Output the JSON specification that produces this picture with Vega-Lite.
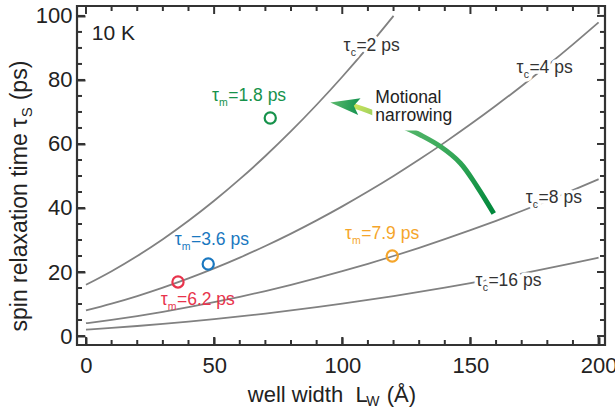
{
  "$schema": "https://vega.github.io/schema/vega-lite/v6.json",
  "width": 528,
  "height": 339,
  "autosize": "none",
  "padding": {"left": 77, "top": 6, "right": 10, "bottom": 64},
  "background": "white",
  "config": {
    "view": {"stroke": "#333333", "strokeWidth": 2.2},
    "font": "Liberation Sans",
    "text": {"font": "Liberation Sans"}
  },
  "datasets": {
    "curves": [
      {"tc": 2, "L": 0, "tau": 16}, {"tc": 2, "L": 10, "tau": 20.25}, {"tc": 2, "L": 20, "tau": 25}, {"tc": 2, "L": 30, "tau": 30.25}, {"tc": 2, "L": 40, "tau": 36}, {"tc": 2, "L": 50, "tau": 42.25}, {"tc": 2, "L": 60, "tau": 49}, {"tc": 2, "L": 70, "tau": 56.25}, {"tc": 2, "L": 80, "tau": 64}, {"tc": 2, "L": 90, "tau": 72.25}, {"tc": 2, "L": 100, "tau": 81}, {"tc": 2, "L": 110, "tau": 90.25}, {"tc": 2, "L": 120, "tau": 100},
      {"tc": 4, "L": 0, "tau": 8}, {"tc": 4, "L": 10, "tau": 10.13}, {"tc": 4, "L": 20, "tau": 12.5}, {"tc": 4, "L": 30, "tau": 15.13}, {"tc": 4, "L": 40, "tau": 18}, {"tc": 4, "L": 50, "tau": 21.13}, {"tc": 4, "L": 60, "tau": 24.5}, {"tc": 4, "L": 70, "tau": 28.13}, {"tc": 4, "L": 80, "tau": 32}, {"tc": 4, "L": 90, "tau": 36.13}, {"tc": 4, "L": 100, "tau": 40.5}, {"tc": 4, "L": 110, "tau": 45.13}, {"tc": 4, "L": 120, "tau": 50}, {"tc": 4, "L": 130, "tau": 55.13}, {"tc": 4, "L": 140, "tau": 60.5}, {"tc": 4, "L": 150, "tau": 66.13}, {"tc": 4, "L": 160, "tau": 72}, {"tc": 4, "L": 170, "tau": 78.13}, {"tc": 4, "L": 180, "tau": 84.5}, {"tc": 4, "L": 190, "tau": 91.13}, {"tc": 4, "L": 200, "tau": 98},
      {"tc": 8, "L": 0, "tau": 4}, {"tc": 8, "L": 10, "tau": 5.06}, {"tc": 8, "L": 20, "tau": 6.25}, {"tc": 8, "L": 30, "tau": 7.56}, {"tc": 8, "L": 40, "tau": 9}, {"tc": 8, "L": 50, "tau": 10.56}, {"tc": 8, "L": 60, "tau": 12.25}, {"tc": 8, "L": 70, "tau": 14.06}, {"tc": 8, "L": 80, "tau": 16}, {"tc": 8, "L": 90, "tau": 18.06}, {"tc": 8, "L": 100, "tau": 20.25}, {"tc": 8, "L": 110, "tau": 22.56}, {"tc": 8, "L": 120, "tau": 25}, {"tc": 8, "L": 130, "tau": 27.56}, {"tc": 8, "L": 140, "tau": 30.25}, {"tc": 8, "L": 150, "tau": 33.06}, {"tc": 8, "L": 160, "tau": 36}, {"tc": 8, "L": 170, "tau": 39.06}, {"tc": 8, "L": 180, "tau": 42.25}, {"tc": 8, "L": 190, "tau": 45.56}, {"tc": 8, "L": 200, "tau": 49},
      {"tc": 16, "L": 0, "tau": 2}, {"tc": 16, "L": 10, "tau": 2.53}, {"tc": 16, "L": 20, "tau": 3.13}, {"tc": 16, "L": 30, "tau": 3.78}, {"tc": 16, "L": 40, "tau": 4.5}, {"tc": 16, "L": 50, "tau": 5.28}, {"tc": 16, "L": 60, "tau": 6.13}, {"tc": 16, "L": 70, "tau": 7.03}, {"tc": 16, "L": 80, "tau": 8}, {"tc": 16, "L": 90, "tau": 9.03}, {"tc": 16, "L": 100, "tau": 10.13}, {"tc": 16, "L": 110, "tau": 11.28}, {"tc": 16, "L": 120, "tau": 12.5}, {"tc": 16, "L": 130, "tau": 13.78}, {"tc": 16, "L": 140, "tau": 15.13}, {"tc": 16, "L": 150, "tau": 16.53}, {"tc": 16, "L": 160, "tau": 18}, {"tc": 16, "L": 170, "tau": 19.53}, {"tc": 16, "L": 180, "tau": 21.13}, {"tc": 16, "L": 190, "tau": 22.78}, {"tc": 16, "L": 200, "tau": 24.5}
    ],
    "circles": [
      {"L": 71.9, "tau": 68.1, "grp": "g"},
      {"L": 47.7, "tau": 22.5, "grp": "b"},
      {"L": 35.9, "tau": 16.9, "grp": "r"},
      {"L": 119.5, "tau": 25.0, "grp": "o"}
    ],
    "tm": [
      {"L": 55.5, "tau": 73.4, "grp": "g", "rest": "=1.8 ps"},
      {"L": 41.0, "tau": 28.4, "grp": "b", "rest": "=3.6 ps"},
      {"L": 35.5, "tau": 9.7, "grp": "r", "rest": "=6.2 ps"},
      {"L": 107.4, "tau": 30.3, "grp": "o", "rest": "=7.9 ps"}
    ],
    "tc": [
      {"L": 105.5, "tau": 89.1, "rest": "=2 ps"},
      {"L": 173.0, "tau": 82.2, "rest": "=4 ps"},
      {"L": 176.6, "tau": 41.6, "rest": "=8 ps"},
      {"L": 157.0, "tau": 15.6, "rest": "=16 ps"}
    ],
    "arrow": [
      {"o": 1, "L": 159.1, "tau": 38.3},
      {"o": 2, "L": 152.6, "tau": 46.7},
      {"o": 3, "L": 146.1, "tau": 54.0},
      {"o": 4, "L": 138.3, "tau": 59.2},
      {"o": 5, "L": 130.5, "tau": 62.8},
      {"o": 6, "L": 125.9, "tau": 64.6},
      {"o": 7, "L": 110.9, "tau": 70.1},
      {"o": 8, "L": 104.4, "tau": 71.9}
    ],
    "xmaj": [{"v": 0, "lo": -0.3, "hi": 100.6}, {"v": 50, "lo": -0.3, "hi": 100.6}, {"v": 100, "lo": -0.3, "hi": 100.6}, {"v": 150, "lo": -0.3, "hi": 100.6}, {"v": 200, "lo": -0.3, "hi": 100.6}],
    "xmin": [{"v": 10, "lo": -1.24, "hi": 101.54}, {"v": 20, "lo": -1.24, "hi": 101.54}, {"v": 30, "lo": -1.24, "hi": 101.54}, {"v": 40, "lo": -1.24, "hi": 101.54}, {"v": 60, "lo": -1.24, "hi": 101.54}, {"v": 70, "lo": -1.24, "hi": 101.54}, {"v": 80, "lo": -1.24, "hi": 101.54}, {"v": 90, "lo": -1.24, "hi": 101.54}, {"v": 110, "lo": -1.24, "hi": 101.54}, {"v": 120, "lo": -1.24, "hi": 101.54}, {"v": 130, "lo": -1.24, "hi": 101.54}, {"v": 140, "lo": -1.24, "hi": 101.54}, {"v": 160, "lo": -1.24, "hi": 101.54}, {"v": 170, "lo": -1.24, "hi": 101.54}, {"v": 180, "lo": -1.24, "hi": 101.54}, {"v": 190, "lo": -1.24, "hi": 101.54}],
    "ymaj": [{"v": 0, "lo": -0.375, "hi": 199.375}, {"v": 20, "lo": -0.375, "hi": 199.375}, {"v": 40, "lo": -0.375, "hi": 199.375}, {"v": 60, "lo": -0.375, "hi": 199.375}, {"v": 80, "lo": -0.375, "hi": 199.375}, {"v": 100, "lo": -0.375, "hi": 199.375}],
    "ymin": [{"v": 5, "lo": -1.55, "hi": 200.55}, {"v": 10, "lo": -1.55, "hi": 200.55}, {"v": 15, "lo": -1.55, "hi": 200.55}, {"v": 25, "lo": -1.55, "hi": 200.55}, {"v": 30, "lo": -1.55, "hi": 200.55}, {"v": 35, "lo": -1.55, "hi": 200.55}, {"v": 45, "lo": -1.55, "hi": 200.55}, {"v": 50, "lo": -1.55, "hi": 200.55}, {"v": 55, "lo": -1.55, "hi": 200.55}, {"v": 65, "lo": -1.55, "hi": 200.55}, {"v": 70, "lo": -1.55, "hi": 200.55}, {"v": 75, "lo": -1.55, "hi": 200.55}, {"v": 85, "lo": -1.55, "hi": 200.55}, {"v": 90, "lo": -1.55, "hi": 200.55}, {"v": 95, "lo": -1.55, "hi": 200.55}]
  },
  "encoding": {
    "x": {"field": "L", "type": "quantitative", "scale": {"domain": [-3.5, 202.5], "nice": false, "zero": false}, "axis": null},
    "y": {"field": "tau", "type": "quantitative", "scale": {"domain": [-2.8, 103.1], "nice": false, "zero": false}, "axis": null}
  },
  "layer": [
    {
      "data": {"name": "curves"},
      "mark": {"type": "line", "interpolate": "monotone", "strokeWidth": 1.8, "color": "#818181"},
      "encoding": {
        "x": {"field": "L", "type": "quantitative", "scale": {"domain": [-3.5, 202.5], "nice": false, "zero": false},
          "axis": {"orient": "bottom", "values": [0, 50, 100, 150, 200], "offset": -8, "domain": false, "grid": false, "title": null, "ticks": true, "tickColor": "#333333", "tickWidth": 2, "tickSize": 8, "labelFont": "Liberation Sans", "labelFontSize": 22, "labelColor": "#222222", "labelPadding": 10, "labelOverlap": false, "labelFlush": false}},
        "y": {"field": "tau", "type": "quantitative", "scale": {"domain": [-2.8, 103.1], "nice": false, "zero": false},
          "axis": {"orient": "left", "values": [0, 20, 40, 60, 80, 100], "offset": -8, "domain": false, "grid": false, "title": null, "ticks": true, "tickColor": "#333333", "tickWidth": 2, "tickSize": 8, "labelFont": "Liberation Sans", "labelFontSize": 22, "labelColor": "#222222", "labelPadding": 5, "labelOverlap": false, "labelFlush": false}},
        "detail": {"field": "tc", "type": "nominal"}
      }
    },
    {
      "data": {"name": "xmaj"},
      "mark": {"type": "point", "shape": "M 0 0 L 0 1", "size": 256, "filled": false, "strokeWidth": 2, "color": "#333333", "opacity": 1},
      "encoding": {"x": {"field": "v", "type": "quantitative", "axis": null}, "y": {"field": "lo", "type": "quantitative", "axis": null}}
    },
    {
      "data": {"name": "xmaj"},
      "mark": {"type": "point", "shape": "M 0 0 L 0 -1", "size": 256, "filled": false, "strokeWidth": 2, "color": "#333333", "opacity": 1},
      "encoding": {"x": {"field": "v", "type": "quantitative", "axis": null}, "y": {"field": "hi", "type": "quantitative", "axis": null}}
    },
    {
      "data": {"name": "xmin"},
      "mark": {"type": "point", "shape": "M 0 0 L 0 1", "size": 100, "filled": false, "strokeWidth": 2, "color": "#333333", "opacity": 1},
      "encoding": {"x": {"field": "v", "type": "quantitative", "axis": null}, "y": {"field": "lo", "type": "quantitative", "axis": null}}
    },
    {
      "data": {"name": "xmin"},
      "mark": {"type": "point", "shape": "M 0 0 L 0 -1", "size": 100, "filled": false, "strokeWidth": 2, "color": "#333333", "opacity": 1},
      "encoding": {"x": {"field": "v", "type": "quantitative", "axis": null}, "y": {"field": "hi", "type": "quantitative", "axis": null}}
    },
    {
      "data": {"name": "ymaj"},
      "mark": {"type": "point", "shape": "M 0 0 L -1 0", "size": 256, "filled": false, "strokeWidth": 2, "color": "#333333", "opacity": 1},
      "encoding": {"y": {"field": "v", "type": "quantitative", "axis": null}, "x": {"field": "lo", "type": "quantitative", "axis": null}}
    },
    {
      "data": {"name": "ymaj"},
      "mark": {"type": "point", "shape": "M 0 0 L 1 0", "size": 256, "filled": false, "strokeWidth": 2, "color": "#333333", "opacity": 1},
      "encoding": {"y": {"field": "v", "type": "quantitative", "axis": null}, "x": {"field": "hi", "type": "quantitative", "axis": null}}
    },
    {
      "data": {"name": "ymin"},
      "mark": {"type": "point", "shape": "M 0 0 L -1 0", "size": 100, "filled": false, "strokeWidth": 2, "color": "#333333", "opacity": 1},
      "encoding": {"y": {"field": "v", "type": "quantitative", "axis": null}, "x": {"field": "lo", "type": "quantitative", "axis": null}}
    },
    {
      "data": {"name": "ymin"},
      "mark": {"type": "point", "shape": "M 0 0 L 1 0", "size": 100, "filled": false, "strokeWidth": 2, "color": "#333333", "opacity": 1},
      "encoding": {"y": {"field": "v", "type": "quantitative", "axis": null}, "x": {"field": "hi", "type": "quantitative", "axis": null}}
    },
    {
      "data": {"name": "circles"},
      "mark": {"type": "point", "filled": false, "size": 125, "strokeWidth": 2.2, "opacity": 1},
      "encoding": {
        "color": {"field": "grp", "type": "nominal", "scale": {"domain": ["g", "b", "r", "o"], "range": ["#16924b", "#1a78c0", "#e8344c", "#f5a52a"]}, "legend": null}
      }
    },
    {
      "data": {"name": "arrow"},
      "mark": {"type": "line", "interpolate": "catmull-rom", "strokeWidth": 5, "strokeCap": "butt",
        "stroke": {"gradient": "linear", "x1": 1, "y1": 1, "x2": 0, "y2": 0, "stops": [{"offset": 0, "color": "#00873b"}, {"offset": 0.35, "color": "#2ea454"}, {"offset": 0.7, "color": "#52b468"}, {"offset": 0.85, "color": "#8ccb62"}, {"offset": 1, "color": "#cde35a"}]}},
      "encoding": {"order": {"field": "o", "type": "quantitative"}}
    },
    {
      "data": {"values": [{"L": 111.7, "L2": 143, "tau": 78.4, "tau2": 64.2}]},
      "mark": {"type": "rect", "color": "white"},
      "encoding": {"x2": {"field": "L2"}, "y2": {"field": "tau2"}}
    },
    {
      "data": {"values": [{"L": 112.9, "tau": 72.9}]},
      "mark": {"type": "text", "align": "left", "baseline": "alphabetic", "fontSize": 17.5, "lineBreak": "\n", "lineHeight": 18.5, "color": "#222222"},
      "encoding": {"text": {"value": "Motional\nnarrowing"}}
    },
    {
      "data": {"values": [{"L": 101.0, "tau": 72.3}]},
      "mark": {"type": "point", "shape": "M -1 0 L 1 -0.58 L 0.62 0 L 1 0.58 Z", "size": 860, "angle": 8, "filled": true, "opacity": 1, "strokeWidth": 0,
        "fill": {"gradient": "linear", "x1": 0, "y1": 0, "x2": 1, "y2": 0, "stops": [{"offset": 0, "color": "#5cba6c"}, {"offset": 1, "color": "#169350"}]}}
    },
    {
      "data": {"name": "tm"},
      "mark": {"type": "text", "align": "left", "baseline": "alphabetic", "fontSize": 17.5},
      "encoding": {"text": {"field": "rest"}, "color": {"field": "grp", "type": "nominal", "scale": {"domain": ["g", "b", "r", "o"], "range": ["#16924b", "#1a78c0", "#e8344c", "#f5a52a"]}, "legend": null}}
    },
    {
      "data": {"name": "tm"},
      "mark": {"type": "text", "align": "right", "baseline": "alphabetic", "fontSize": 10.5, "dx": -0.5, "dy": 5},
      "encoding": {"text": {"value": "m"}, "color": {"field": "grp", "type": "nominal", "scale": {"domain": ["g", "b", "r", "o"], "range": ["#16924b", "#1a78c0", "#e8344c", "#f5a52a"]}, "legend": null}}
    },
    {
      "data": {"name": "tm"},
      "mark": {"type": "text", "align": "right", "baseline": "alphabetic", "fontSize": 17.5, "dx": -9.3},
      "encoding": {"text": {"value": "τ"}, "color": {"field": "grp", "type": "nominal", "scale": {"domain": ["g", "b", "r", "o"], "range": ["#16924b", "#1a78c0", "#e8344c", "#f5a52a"]}, "legend": null}}
    },
    {
      "data": {"name": "tc"},
      "mark": {"type": "text", "align": "left", "baseline": "alphabetic", "fontSize": 17.5, "fill": "white", "stroke": "white", "strokeWidth": 7, "strokeJoin": "round"},
      "encoding": {"text": {"field": "rest"}}
    },
    {
      "data": {"name": "tc"},
      "mark": {"type": "text", "align": "right", "baseline": "alphabetic", "fontSize": 10.5, "dx": -0.5, "dy": 5, "fill": "white", "stroke": "white", "strokeWidth": 7, "strokeJoin": "round"},
      "encoding": {"text": {"value": "c"}}
    },
    {
      "data": {"name": "tc"},
      "mark": {"type": "text", "align": "right", "baseline": "alphabetic", "fontSize": 17.5, "dx": -6, "fill": "white", "stroke": "white", "strokeWidth": 7, "strokeJoin": "round"},
      "encoding": {"text": {"value": "τ"}}
    },
    {
      "data": {"name": "tc"},
      "mark": {"type": "text", "align": "left", "baseline": "alphabetic", "fontSize": 17.5, "color": "#333333"},
      "encoding": {"text": {"field": "rest"}}
    },
    {
      "data": {"name": "tc"},
      "mark": {"type": "text", "align": "right", "baseline": "alphabetic", "fontSize": 10.5, "dx": -0.5, "dy": 5, "color": "#333333"},
      "encoding": {"text": {"value": "c"}}
    },
    {
      "data": {"name": "tc"},
      "mark": {"type": "text", "align": "right", "baseline": "alphabetic", "fontSize": 17.5, "dx": -6, "color": "#333333"},
      "encoding": {"text": {"value": "τ"}}
    },
    {
      "data": {"values": [{"L": 2.3, "tau": 92.5}]},
      "mark": {"type": "text", "align": "left", "baseline": "alphabetic", "fontSize": 21, "color": "#222222"},
      "encoding": {"text": {"value": "10 K"}}
    },
    {
      "data": {"values": [{"L": 109.9, "tau": -20.6}]},
      "mark": {"type": "text", "align": "right", "baseline": "alphabetic", "fontSize": 22, "color": "#222222"},
      "encoding": {"text": {"value": "well width\u00a0\u00a0L"}}
    },
    {
      "data": {"values": [{"L": 109.9, "tau": -20.6}]},
      "mark": {"type": "text", "align": "left", "baseline": "alphabetic", "fontSize": 14, "dx": -1.5, "dy": 4, "color": "#222222"},
      "encoding": {"text": {"value": "W"}}
    },
    {
      "data": {"values": [{"L": 109.9, "tau": -20.6}]},
      "mark": {"type": "text", "align": "left", "baseline": "alphabetic", "fontSize": 22, "dx": 19, "color": "#222222"},
      "encoding": {"text": {"value": "(Å)"}}
    },
    {
      "data": {"values": [{"L": -23.0, "tau": 65.2}]},
      "mark": {"type": "text", "align": "right", "baseline": "alphabetic", "fontSize": 23, "angle": 270, "dx": -6, "color": "#222222"},
      "encoding": {"text": {"value": "spin relaxation time"}}
    },
    {
      "data": {"values": [{"L": -23.0, "tau": 65.2}]},
      "mark": {"type": "text", "align": "left", "baseline": "alphabetic", "fontSize": 23, "angle": 270, "color": "#222222"},
      "encoding": {"text": {"value": "τ"}}
    },
    {
      "data": {"values": [{"L": -23.0, "tau": 65.2}]},
      "mark": {"type": "text", "align": "left", "baseline": "alphabetic", "fontSize": 15, "angle": 270, "dx": 10, "dy": 5, "color": "#222222"},
      "encoding": {"text": {"value": "S"}}
    },
    {
      "data": {"values": [{"L": -23.0, "tau": 65.2}]},
      "mark": {"type": "text", "align": "left", "baseline": "alphabetic", "fontSize": 23, "angle": 270, "dx": 27, "color": "#222222"},
      "encoding": {"text": {"value": "(ps)"}}
    }
  ],
  "resolve": {"axis": {"x": "independent", "y": "independent"}}
}
